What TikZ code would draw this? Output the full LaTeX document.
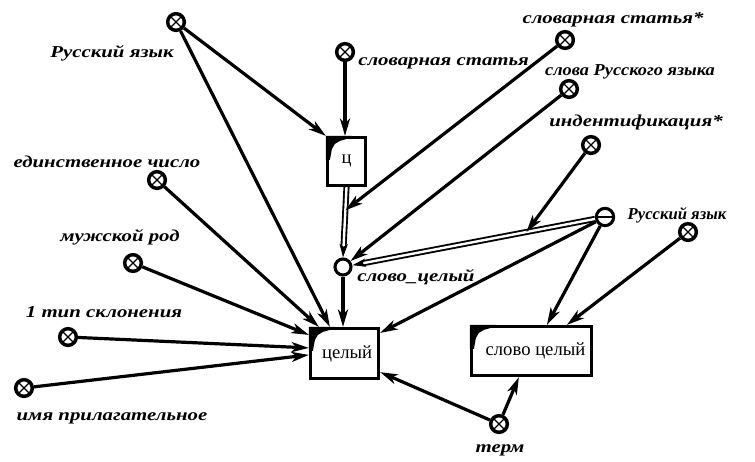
\documentclass[tikz,border=0pt]{standalone}
\usepackage{fontspec}
\setmainfont{Liberation Serif}
\newfontfamily\labfont[FakeStretch=1.25]{Liberation Serif}
\newfontfamily\labfontb[FakeStretch=1.1]{Liberation Serif}
\newfontfamily\labfontc[FakeStretch=1.0]{Liberation Serif}
\usetikzlibrary{arrows.meta,calc}
\tikzset{
  xcirc/.style={circle, draw, line width=2.6pt, minimum size=12.5pt, inner sep=0pt, fill=white,
    path picture={\draw[line width=1pt] (path picture bounding box.north west) -- (path picture bounding box.south east)
                  (path picture bounding box.north east) -- (path picture bounding box.south west);}},
  ocirc/.style={circle, draw, line width=2.3pt, minimum size=12pt, inner sep=0pt, fill=white},
  hcirc/.style={ocirc, minimum size=13pt, path picture={\draw[line width=1pt] (path picture bounding box.west) -- (path picture bounding box.east);}},
  boxn/.style={rectangle, draw, line width=2.4pt, fill=white, inner sep=0pt, font=\fontsize{14pt}{16pt}\selectfont},
  lab/.style={inner sep=0pt, font=\labfont\bfseries\itshape\fontsize{12.5pt}{14pt}\selectfont},
  labr/.style={inner sep=0pt, font=\labfontb\bfseries\itshape\fontsize{12.5pt}{14pt}\selectfont},
  labs/.style={inner sep=0pt, font=\labfontc\bfseries\itshape\fontsize{12.5pt}{14pt}\selectfont},
  conn/.style={line width=2.4pt, -{Stealth[length=13pt,width=7.5pt,inset=3.5pt]}},
  dbl/.style={double, line width=1.4pt, double distance=1.8pt, -{Stealth[length=10pt,width=6pt,inset=2pt]}}
}
\newcommand\cornermark[1]{\fill[shift={(#1.north west)}] (0,0) -- (26,0) -- (21,3) -- (14,5) -- (9,8) -- (6,13) -- (4,24) -- (0,24) -- cycle;}
\begin{document}
\begin{tikzpicture}[x=0.75pt,y=-0.75pt]
\useasboundingbox[fill=white] (0,0) rectangle (755,461);
% boxes
\node[boxn, minimum width=28.5pt, minimum height=36pt] (boxc) at (346.5,161.5) {ц};
\node[boxn, minimum width=51pt, minimum height=37.5pt] (cel) at (344.5,353.5) {\hspace{4pt}целый};
\node[boxn, minimum width=90pt, minimum height=36.75pt] (sc) at (531.5,351) {\hspace{6pt}слово целый};
\cornermark{boxc}
\cornermark{cel}
\cornermark{sc}
% circles
\node[xcirc] (A) at (176,22) {};
\node[xcirc] (B) at (345,52) {};
\node[xcirc] (C) at (565,40) {};
\node[xcirc] (D) at (569,89) {};
\node[xcirc] (E) at (591,145) {};
\node[xcirc] (F) at (688,232) {};
\node[hcirc] (G) at (605,217) {};
\node[xcirc] (H) at (157,180) {};
\node[xcirc] (I) at (133,263) {};
\node[xcirc] (J) at (68,337) {};
\node[xcirc] (K) at (24,388) {};
\node[xcirc] (L) at (499,424) {};
\node[ocirc] (M) at (343,267) {};
% labels
\node[lab] (lA) at (112,53) {Русский язык};
\node[lab, anchor=west] (lB) at (358,63) {словарная статья};
\node[lab] (lC) at (613,20) {словарная статья*};
\node[labr] (lD) at (630,72) {слова Русского языка};
\node[lab] (lE) at (636,122) {индентификация*};
\node[labs] (lF) at (677,215) {Русский язык};
\node[lab] (lH) at (107,162) {единственное число};
\node[lab] (lI) at (120,237) {мужской род};
\node[lab] (lJ) at (104,312) {1 тип склонения};
\node[lab] (lK) at (112,418) {имя прилагательное};
\node[lab] (lL) at (500,450) {терм};
\node[lab, anchor=west] (lM) at (357,277) {слово\_целый};
% double connectors
\draw[dbl] (boxc.south) -- (M.north);
\draw[dbl] (G) -- (M);
\coordinate (cm) at ($(boxc.south)!0.33!(M.north)$);
\coordinate (em) at ($(G)!0.3!(M)$);
% connectors
\draw[conn] (A) -- (boxc.north west);
\draw[conn] (B) -- (B|-boxc.north);
\draw[conn] (C) -- (cm);
\draw[conn] (D) -- (M);
\draw[conn] (E) -- (em);
\draw[conn] (A) -- ($(cel.north west)+(21,0)$);
\draw[conn] (H) -- ($(cel.north west)+(10,0)$);
\draw[conn] (M) -- (M|-cel.north);
\draw[conn] (I) -- ($(cel.north west)+(0,8)$);
\draw[conn] (J) -- ($(cel.north west)+(0,21)$);
\draw[conn] (K) -- ($(cel.north west)+(0,28)$);
\draw[conn] (G) -- ($(cel.north east)+(0,6)$);
\draw[conn] (L) -- ($(cel.south east)+(0,-8)$);
\draw[conn] (G) -- ($(sc.north west)+(77,0)$);
\draw[conn] (F) -- ($(sc.north west)+(97,0)$);
\draw[conn] (L) -- ($(sc.south west)+(49,0)$);
\end{tikzpicture}
\end{document}
